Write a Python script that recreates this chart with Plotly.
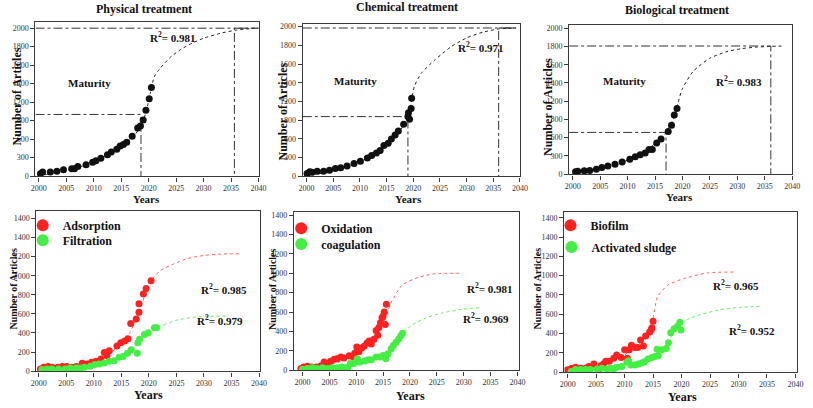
import plotly.graph_objects as go

W, H = 813, 408

# ---------------- data ----------------
year_ticks = [2000, 2005, 2010, 2015, 2020, 2025, 2030, 2035, 2040]
year_tick_text = [str(y) for y in year_ticks]
top_y_tickvals = [0, 250, 500, 750, 1000, 1250, 1500, 1750, 2000]
top_y_ticktext = ['0', '300', '600', '800', '1200', '1400', '1600', '1800', '2000']
bot_y_tickvals = [0, 200, 400, 600, 800, 1000, 1200, 1400, 1600]
bot_y_ticktext = ['0', '200', '400', '600', '800', '1000', '1200', '1400', '1400']

# Physical treatment
phys_years = [2000.3, 2000.7, 2002.1, 2003.3, 2004.5, 2006.0, 2006.5, 2007.1, 2008.6, 2009.8, 2010.4,
              2011.3, 2012.5, 2013.2, 2014.2, 2014.8, 2015.4, 2016.0, 2017.0, 2018.0, 2018.5, 2019.0,
              2019.5, 2020.1, 2020.5]
phys_counts = [31, 53, 53, 66, 84, 97, 97, 128, 154, 185, 207, 242, 286, 326, 361, 405, 427, 458, 537,
               648, 678, 758, 890, 1044, 1198]
phys_fit_years = [2000, 2003, 2006, 2009, 2012, 2015, 2017, 2018.5, 2019.5, 2020.3, 2021, 2022, 2024,
                  2026, 2028, 2030, 2033, 2036, 2040]
phys_fit_counts = [0, 45, 95, 160, 265, 400, 520, 660, 860, 1120, 1340, 1450, 1610, 1720, 1800, 1865,
                   1930, 1975, 2005]
phys_maturity = (2018.6, 833)
phys_saturation = (2035.6, 2000)
phys_r2 = 'R<sup>2</sup>= 0.981'

# Chemical treatment
chem_years = [2000.1, 2000.6, 2001.0, 2002.0, 2003.2, 2004.3, 2005.4, 2006.4, 2007.6, 2008.9, 2010.1,
              2011.4, 2012.2, 2013.1, 2013.8, 2014.5, 2015.3, 2015.9, 2016.6, 2017.2, 2018.2, 2019.0,
              2019.1, 2019.3, 2019.6, 2019.7]
chem_counts = [35, 57, 50, 66, 66, 79, 101, 110, 136, 167, 198, 242, 277, 308, 343, 409, 440, 497, 549,
               602, 695, 796, 848, 760, 905, 1042]
chem_fit_years = [2000, 2003, 2006, 2009, 2012, 2015, 2017, 2018.5, 2019.5, 2020.2, 2021.5, 2024, 2027,
                  2030, 2033, 2036, 2039.3]
chem_fit_counts = [0, 40, 90, 160, 260, 410, 560, 720, 950, 1200, 1376, 1552, 1727, 1850, 1925, 1969,
                   1982]
chem_maturity = (2019.0, 796)
chem_saturation = (2036.0, 1982)
chem_r2 = 'R<sup>2</sup>= 0.971'

# Biological treatment
bio_years = [2000.5, 2000.9, 2002.1, 2003.1, 2004.3, 2005.3, 2006.4, 2007.7, 2009.0, 2010.4, 2011.4,
             2012.3, 2013.2, 2013.9, 2014.5, 2015.3, 2016.1, 2017.4, 2018.0, 2018.5, 2019.0]
bio_counts = [32, 41, 45, 50, 68, 90, 113, 135, 167, 203, 239, 266, 288, 338, 338, 428, 482, 586, 671,
              811, 901]
bio_fit_years = [2000, 2003, 2006, 2009, 2012, 2015, 2017, 2018.5, 2019.2, 2019.9, 2021.9, 2024.9,
                 2027.9, 2030.8, 2033.5, 2036.1, 2038.5]
bio_fit_counts = [0, 40, 90, 160, 260, 420, 570, 780, 980, 1158, 1405, 1586, 1676, 1721, 1742, 1752, 1757]
bio_maturity = (2017.0, 572)
bio_saturation = (2036.1, 1757)
bio_r2 = 'R<sup>2</sup>= 0.983'

# Adsorption / Filtration
ads_years = [2000.3, 2000.9, 2001.7, 2002.4, 2003.5, 2004.3, 2005.1, 2006.0, 2006.8, 2007.9, 2008.8,
             2009.6, 2010.4, 2011.3, 2011.9, 2012.4, 2012.8, 2014.2, 2014.9, 2015.6, 2016.2, 2016.7,
             2017.7, 2018.2, 2018.2, 2019.0, 2019.5, 2020.4]
ads_counts = [24, 41, 48, 41, 41, 48, 48, 41, 48, 83, 76, 93, 103, 127, 196, 162, 213, 265, 299, 317,
              341, 499, 547, 616, 705, 809, 867, 946]
ads_fit_years = [2000, 2004, 2008, 2011, 2013, 2015, 2016.5, 2017.5, 2018.5, 2019.5, 2020.4, 2022, 2024,
                 2027, 2030, 2033, 2036.5]
ads_fit_counts = [15, 25, 55, 110, 190, 290, 400, 520, 660, 840, 950, 1050, 1110, 1180, 1212, 1226, 1230]
ads_r2 = 'R<sup>2</sup>= 0.985'

filt_years = [2000.6, 2001.5, 2002.4, 2003.6, 2004.8, 2005.7, 2006.8, 2007.6, 2008.3, 2009.4, 2010.2,
              2011.0, 2011.9, 2012.8, 2013.7, 2014.6, 2015.3, 2016.1, 2016.8, 2017.9, 2018.0, 2018.3,
              2019.2, 2019.9, 2021.0, 2021.4]
filt_counts = [17, 24, 24, 24, 24, 34, 34, 34, 41, 52, 69, 76, 86, 103, 110, 145, 155, 189, 224, 189,
               299, 334, 385, 403, 454, 454]
filt_fit_years = [2000, 2004, 2008, 2011, 2014, 2016, 2017.5, 2019, 2020.5, 2022, 2025, 2028, 2031, 2034]
filt_fit_counts = [0, 15, 40, 75, 130, 195, 270, 370, 430, 471, 533, 565, 575, 578]
filt_r2 = 'R<sup>2</sup>= 0.979'

# Oxidation / coagulation
oxi_years = [1999.7, 2000.2, 2000.9, 2001.7, 2002.6, 2003.4, 2004.0, 2004.7, 2005.2, 2005.9, 2006.4,
             2007.1, 2007.7, 2008.7, 2009.3, 2009.7, 2010.1, 2010.5, 2011.0, 2011.5, 2012.0, 2012.4,
             2012.8, 2013.3, 2013.7, 2014.0, 2014.2, 2014.5, 2014.8, 2015.0, 2015.2, 2015.4, 2015.6]
oxi_counts = [17, 34, 40, 34, 34, 44, 85, 64, 91, 112, 118, 135, 125, 150, 140, 175, 240, 190, 230, 250,
              280, 300, 270, 320, 410, 360, 440, 490, 540, 560, 600, 470, 680]
oxi_fit_years = [2000, 2003, 2006, 2009, 2011, 2013, 2014.5, 2015.5, 2016.5, 2018.6, 2021.7, 2024.7, 2029.6]
oxi_fit_counts = [10, 30, 70, 130, 190, 290, 400, 540, 700, 880, 960, 995, 1000]
oxi_r2 = 'R<sup>2</sup>= 0.981'

coag_years = [2000.0, 2000.9, 2001.8, 2002.7, 2003.7, 2004.6, 2005.5, 2006.4, 2007.2, 2007.9, 2008.5,
              2008.9, 2009.5, 2010.2, 2010.7, 2011.6, 2012.2, 2012.8, 2013.7, 2014.4, 2015.0, 2015.5,
              2015.9, 2016.5, 2016.9, 2017.4, 2017.9, 2018.3, 2018.6]
coag_counts = [10, 17, 24, 17, 24, 17, 24, 24, 34, 24, 34, 68, 68, 118, 85, 95, 108, 108, 135, 135, 152,
               118, 169, 220, 254, 288, 321, 355, 382]
coag_fit_years = [2000, 2004, 2008, 2011, 2014, 2016, 2017.5, 2018.6, 2020.5, 2023, 2026, 2030, 2033]
coag_fit_counts = [0, 15, 40, 75, 120, 190, 290, 382, 470, 540, 590, 630, 645]
coag_r2 = 'R<sup>2</sup>= 0.969'

# Biofilm / Activated sludge
biof_years = [2000.0, 2000.7, 2001.4, 2002.3, 2003.2, 2003.7, 2004.6, 2005.5, 2005.9, 2006.3, 2006.7,
              2007.3, 2008.1, 2008.6, 2009.4, 2010.0, 2010.5, 2010.8, 2011.2, 2011.8, 2012.3, 2012.8,
              2013.3, 2013.7, 2014.4, 2014.7, 2014.8, 2015.0]
biof_counts = [24, 41, 51, 41, 41, 58, 85, 34, 68, 85, 112, 112, 143, 177, 153, 231, 143, 231, 279, 255,
               255, 334, 272, 374, 415, 442, 459, 528]
biof_fit_years = [2000, 2005, 2010, 2013, 2014.5, 2015.0, 2015.8, 2017.6, 2020.4, 2024.5, 2029.6]
biof_fit_counts = [20, 60, 180, 320, 430, 560, 783, 902, 970, 1028, 1038]
biof_r2 = 'R<sup>2</sup>= 0.965'

sludge_years = [2000.6, 2001.4, 2002.3, 2003.2, 2004.0, 2005.2, 2006.0, 2006.9, 2007.5, 2008.1, 2008.6,
                2009.5, 2010.4, 2010.7, 2011.1, 2011.8, 2012.4, 2013.0, 2013.5, 2014.1, 2014.8, 2015.3,
                2015.7, 2015.9, 2016.5, 2017.3, 2017.7, 2018.1, 2018.7, 2019.3, 2019.7, 2019.9]
sludge_counts = [7, 27, 27, 27, 27, 34, 41, 34, 41, 34, 51, 58, 102, 119, 75, 75, 85, 95, 109, 136, 153,
                 163, 238, 170, 231, 245, 306, 408, 449, 476, 517, 436]
sludge_fit_years = [2000, 2005, 2010, 2013, 2015, 2016.5, 2017.5, 2018.5, 2019.7, 2021, 2023.3, 2026.8,
                    2030.2, 2033.7]
sludge_fit_counts = [0, 20, 60, 100, 160, 220, 300, 400, 480, 545, 596, 647, 671, 681]
sludge_r2 = 'R<sup>2</sup>= 0.952'

# ---------------- layout helpers ----------------
SERIF = 'Liberation Serif'
AX = '#3a3a3a'
RED = '#ff2020'
GREEN = '#44ee44'
RED_LINE = '#ff6060'
GREEN_LINE = '#60ee60'

# panel geometry: left, right, top, bottom (px), x range, y range, top/bottom row
panels = [
    dict(l=30, r=257, t=21, b=178, xr=[1999.4, 2040], yr=[-5, 2088], row='top'),
    dict(l=302, r=523, t=23, b=178, xr=[1999.3, 2040], yr=[-4, 2040], row='top'),
    dict(l=573, r=800, t=24, b=176, xr=[1999.34, 2040], yr=[-4, 2050], row='top'),
    dict(l=31, r=258, t=213, b=376, xr=[1999.59, 2040.1], yr=[-3, 1679], row='bot'),
    dict(l=293, r=522, t=214, b=375, xr=[1998.4, 2040.3], yr=[-3, 1633], row='bot'),
    dict(l=568, r=805, t=214, b=377, xr=[1999.4, 2040.3], yr=[-3, 1661], row='bot'),
]

fig = go.Figure()
layout = dict(
    width=W, height=H, margin=dict(l=0, r=0, t=0, b=0),
    paper_bgcolor='white', plot_bgcolor='white', showlegend=True,
)

for i, p in enumerate(panels, start=1):
    xs = '' if i == 1 else str(i)
    top = p['row'] == 'top'
    layout['xaxis' + xs] = dict(
        domain=[p['l'] / W, p['r'] / W], range=p['xr'], anchor='y' + xs,
        tickvals=year_ticks, ticktext=year_tick_text, ticks='outside', ticklen=4,
        tickcolor=AX, linecolor=AX, linewidth=1.3, mirror=True, showgrid=False, zeroline=False,
        tickfont=dict(family=SERIF, size=8, color='#333'),
    )
    layout['yaxis' + xs] = dict(
        domain=[1 - p['b'] / H, 1 - p['t'] / H], range=p['yr'], anchor='x' + xs,
        tickvals=top_y_tickvals if top else bot_y_tickvals,
        ticktext=top_y_ticktext if top else bot_y_ticktext,
        ticks='outside', ticklen=4, tickcolor=AX, linecolor=AX, linewidth=1.3, mirror=True,
        showgrid=False, zeroline=False, tickfont=dict(family=SERIF, size=8, color='#333'),
    )


def axref(i):
    s = '' if i == 1 else str(i)
    return 'x' + s, 'y' + s


def add_top(i, yrs, cnts, fyrs, fcnts, mat, sat, sat_end):
    xa, ya = axref(i)
    x0 = panels[i - 1]['xr'][0]
    fig.add_trace(go.Scatter(x=[x0, mat[0], mat[0]], y=[mat[1], mat[1], 0], mode='lines',
                             line=dict(color='#333', width=1, dash='dashdot'), xaxis=xa, yaxis=ya,
                             showlegend=False, hoverinfo='skip'))
    fig.add_trace(go.Scatter(x=[x0, sat_end, sat[0], sat[0]], y=[sat[1], sat[1], sat[1], 0], mode='lines',
                             line=dict(color='#333', width=1, dash='dashdot'), xaxis=xa, yaxis=ya,
                             showlegend=False, hoverinfo='skip'))
    fig.add_trace(go.Scatter(x=fyrs, y=fcnts, mode='lines', line=dict(color='#222', width=1, dash='dot',
                             shape='spline', smoothing=0.6), xaxis=xa, yaxis=ya, showlegend=False))
    fig.add_trace(go.Scatter(x=yrs, y=cnts, mode='markers', marker=dict(color='#111', size=7),
                             xaxis=xa, yaxis=ya, showlegend=False))


add_top(1, phys_years, phys_counts, phys_fit_years, phys_fit_counts, phys_maturity, phys_saturation, 2040)
add_top(2, chem_years, chem_counts, chem_fit_years, chem_fit_counts, chem_maturity, chem_saturation, 2039.3)
add_top(3, bio_years, bio_counts, bio_fit_years, bio_fit_counts, bio_maturity, bio_saturation, 2036.1)


def add_bot(i, leg1, leg2, name1, y1, c1, fy1, fc1, name2, y2, c2, fy2, fc2):
    xa, ya = axref(i)
    fig.add_trace(go.Scatter(x=fy1, y=fc1, mode='lines', line=dict(color=RED_LINE, width=1, dash='dot',
                             shape='spline', smoothing=0.6), xaxis=xa, yaxis=ya, showlegend=False))
    fig.add_trace(go.Scatter(x=fy2, y=fc2, mode='lines', line=dict(color=GREEN_LINE, width=1, dash='dot',
                             shape='spline', smoothing=0.6), xaxis=xa, yaxis=ya, showlegend=False))
    fig.add_trace(go.Scatter(x=y1, y=c1, mode='markers', marker=dict(color=RED, size=7), name='<b>' + name1 + '</b>',
                             xaxis=xa, yaxis=ya, legend=leg1))
    fig.add_trace(go.Scatter(x=y2, y=c2, mode='markers', marker=dict(color=GREEN, size=7), name='<b>' + name2 + '</b>',
                             xaxis=xa, yaxis=ya, legend=leg2))


add_bot(4, 'legend', 'legend2', 'Adsorption', ads_years, ads_counts, ads_fit_years, ads_fit_counts,
        'Filtration', filt_years, filt_counts, filt_fit_years, filt_fit_counts)
add_bot(5, 'legend3', 'legend4', 'Oxidation', oxi_years, oxi_counts, oxi_fit_years, oxi_fit_counts,
        'coagulation', coag_years, coag_counts, coag_fit_years, coag_fit_counts)
add_bot(6, 'legend5', 'legend6', 'Biofilm', biof_years, biof_counts, biof_fit_years, biof_fit_counts,
        'Activated sludge', sludge_years, sludge_counts, sludge_fit_years, sludge_fit_counts)

leg_common = dict(font=dict(family=SERIF, size=12, color='#111'), bgcolor='rgba(0,0,0,0)',
                  xanchor='left', yanchor='top', traceorder='normal', itemsizing='constant',
                  tracegroupgap=0)
leg_pos = {'legend': (17, 213), 'legend2': (17, 228), 'legend3': (280, 216), 'legend4': (280, 232),
           'legend5': (554, 213), 'legend6': (555, 235)}
for k, (lx, ly) in leg_pos.items():
    layout[k] = dict(x=lx / W, y=1 - ly / H, **leg_common)

annots = []


def ann(text, x, y, size=11, bold=True, angle=0):
    annots.append(dict(text=('<b>' + text + '</b>') if bold else text, x=x / W, y=1 - y / H,
                       xref='paper', yref='paper', showarrow=False, textangle=angle,
                       font=dict(family=SERIF, size=size, color='#111'), xanchor='center', yanchor='middle'))


ann('Physical treatment', 140, 8, 12)
ann('Chemical treatment', 408, 6, 12)
ann('Biological treatment', 683, 9, 12)
for (x, y) in [(143, 201), (410, 201), (685, 199)]:
    ann('Years', x, y, 11)
for (x, y) in [(145, 400), (412, 401), (688, 402)]:
    ann('Years', x, y, 12)
for (x, y) in [(11, 97), (282, 112), (552, 107)]:
    ann('Number of Articles', x, y, 12, angle=-90)
for (x, y) in [(8, 292), (271, 292), (541, 292)]:
    ann('Number of Articles', x, y, 10, angle=-90)
for (x, y) in [(85, 83), (356, 81), (629, 81)]:
    ann('Maturity', x, y, 11)
ann(phys_r2, 170, 37, 11)
ann(chem_r2, 483, 47, 11)
ann(bio_r2, 746, 81, 11)
ann(ads_r2, 222, 292, 11)
ann(filt_r2, 218, 324, 11)
ann(oxi_r2, 492, 291, 11)
ann(coag_r2, 488, 322, 11)
ann(biof_r2, 743, 288, 11)
ann(sludge_r2, 759, 334, 11)

layout['annotations'] = annots
fig.update_layout(**layout)
fig.write_html('out.html')
